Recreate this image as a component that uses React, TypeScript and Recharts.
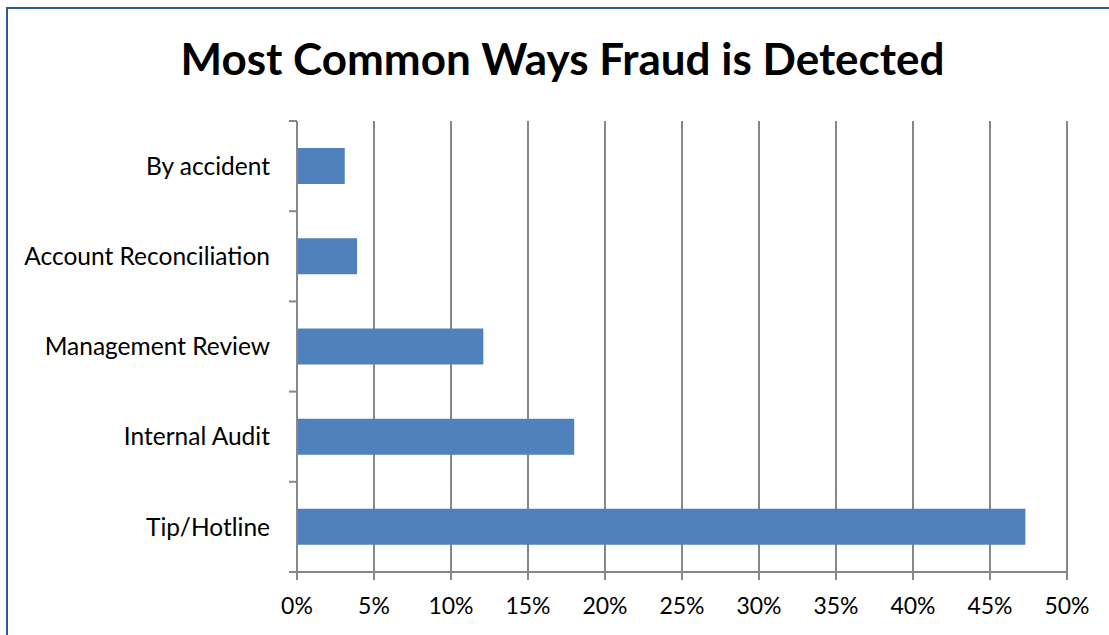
import React from "react";
import { BarChart, Bar, XAxis, YAxis, CartesianGrid } from "recharts";

const categories = [
  "By accident",
  "Account Reconciliation",
  "Management Review",
  "Internal Audit",
  "Tip/Hotline",
];
const percentages = [3.1, 3.9, 12.1, 18.0, 47.3];
const xTicks = [0, 5, 10, 15, 20, 25, 30, 35, 40, 45, 50];
const title = "Most Common Ways Fraud is Detected";

const data = categories.map((name, i) => ({ name, value: percentages[i] }));

const W = 1101;
const H = 627;
const MARGIN = { top: 113, right: 42, bottom: 33, left: 0 };
const X_AXIS_H = 30;
const Y_AXIS_W = 289;
const FONT = "Lato, 'Open Sans', sans-serif";
const GRID = "#878787";

const plotH = H - MARGIN.top - MARGIN.bottom - X_AXIS_H;
const band = plotH / categories.length;

const YTick = (props: any) => {
  const { x, y, payload, index } = props;
  const axisX = x + 8 + 19;
  return (
    <g>
      {index === 0 && (
        <line x1={axisX - 8} x2={axisX} y1={y - band / 2} y2={y - band / 2} stroke={GRID} strokeWidth={2} />
      )}
      <line x1={axisX - 8} x2={axisX} y1={y + band / 2} y2={y + band / 2} stroke={GRID} strokeWidth={2} />
      <text x={x} y={y} dy="0.355em" textAnchor="end" fill="#000" fontSize={24.5} fontFamily={FONT}>
        {payload.value}
      </text>
    </g>
  );
};

export default function App() {
  return (
    <div style={{ position: "fixed", left: 0, top: 0, width: 1109, height: 635, overflow: "hidden", background: "#fff" }}>
      <div
        style={{
          position: "absolute",
          left: 6,
          top: 7,
          width: 1300,
          height: 900,
          border: "2px solid #2C5A92",
          boxSizing: "border-box",
        }}
      />
      <svg style={{ position: "absolute", left: 8, top: 8 }} width={W} height={100}>
        <text
          x={554.5}
          y={67}
          textAnchor="middle"
          fontFamily={FONT}
          fontWeight="bold"
          fontSize={44}
          fill="#000"
        >
          {title}
        </text>
      </svg>
      <div style={{ position: "absolute", left: 8, top: 8 }}>
        <BarChart width={W} height={H} data={data} layout="vertical" margin={MARGIN} barCategoryGap="30%">
          <CartesianGrid vertical={true} horizontal={false} stroke={GRID} strokeWidth={2} strokeDasharray="" />
          <XAxis
            type="number"
            domain={[0, 50]}
            ticks={xTicks}
            tickFormatter={(v: number) => `${v}%`}
            height={X_AXIS_H}
            tickSize={8}
            tickMargin={18}
            stroke={GRID}
            strokeWidth={2}
            tick={{ fill: "#000", fontSize: 23, fontFamily: FONT }}
            interval={0}
          />
          <YAxis
            type="category"
            dataKey="name"
            width={Y_AXIS_W}
            tickLine={false}
            tickSize={8}
            tickMargin={19}
            stroke={GRID}
            strokeWidth={2}
            tick={<YTick />}
            interval={0}
          />
          <Bar dataKey="value" fill="#4F81BD" isAnimationActive={false} />
        </BarChart>
      </div>
    </div>
  );
}
